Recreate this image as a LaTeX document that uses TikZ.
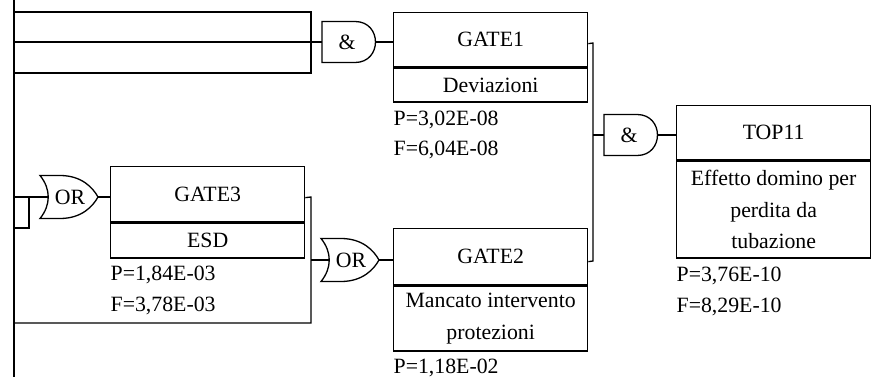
\documentclass[tikz,border=0pt]{standalone}
\usepackage{fontspec}
\setmainfont{Liberation Serif}
\tikzset{
  every path/.style={line width=1.3pt},
  lbl/.style={font=\fontsize{21.8}{31.5}\selectfont, inner sep=0pt},
  hdr/.style={lbl, draw, line width=1.3pt, minimum width=194pt, anchor=north west, align=center},
  andgate/.pic={
    \draw (0,-20.5) -- (33,-20.5) .. controls (60.3,-20.5) and (60.3,20.5) .. (33,20.5) -- (0,20.5) -- cycle;
    \coordinate (-in) at (0,0);
    \coordinate (-out) at (54,0);
    \node[lbl] (-t) at (25,0) {\&};
  },
  orgate/.pic={
    \draw (0,-21.5) -- (20,-21.5) .. controls (42,-21.5) and (53,-9) .. (58,0)
          .. controls (53,9) and (42,21.5) .. (20,21.5) -- (0,21.5)
          .. controls (11,8) and (11,-8) .. (0,-21.5) -- cycle;
    \coordinate (-in) at (8.25,0);
    \coordinate (-out) at (58,0);
    \node[lbl] (-t) at (30,0) {OR};
  }
}
\begin{document}
\begin{tikzpicture}[x=1pt,y=-1pt]
\useasboundingbox (0,0) rectangle (872,377);

% event boxes
\node[hdr, minimum height=54pt] (g1h) at (393,12) {GATE1};
\node[hdr, minimum height=34pt] (g1d) at (g1h.south west) {Deviazioni};
\node[hdr, minimum height=55pt] (g3h) at (110,166) {GATE3};
\node[hdr, minimum height=35pt] (g3d) at (g3h.south west) {ESD};
\node[hdr, minimum height=56pt] (g2h) at (393,228) {GATE2};
\node[hdr, minimum height=65pt] (g2d) at (g2h.south west) {Mancato intervento\\protezioni};
\node[hdr, minimum height=54pt] (toph) at (676,105) {TOP11};
\node[hdr, minimum height=97pt] (topd) at (toph.south west) {Effetto domino per\\perdita da\\tubazione};

% probability labels
\node[lbl, anchor=base west] (p1) at (393,125.5) {P=3,02E-08};
\node[lbl, anchor=base west] (f1) at (393,155.5) {F=6,04E-08};
\node[lbl, anchor=base west] (p3) at (110,280.5) {P=1,84E-03};
\node[lbl, anchor=base west] (f3) at (110,311.5) {F=3,78E-03};
\node[lbl, anchor=base west] (p2) at (393,373.5) {P=1,18E-02};
\node[lbl, anchor=base west] (pt) at (676,281.5) {P=3,76E-10};
\node[lbl, anchor=base west] (ft) at (676,312.5) {F=8,29E-10};

% gates
\pic (and1) at (322,42) {andgate};
\pic (and2) at (604,135) {andgate};
\pic (or3) at (40,197) {orgate};
\pic (or2) at (321,260) {orgate};

% bus coordinates
\coordinate (ltop) at (14,0);
\coordinate (lbot) at (14,377);
\coordinate (t1) at (311,12);
\coordinate (t2) at (311,73);
\coordinate (j1) at (593,43);
\coordinate (j2) at (593,261);
\coordinate (k1) at (311,197);
\coordinate (k2) at (311,323);
\coordinate (m1) at (29,197);
\coordinate (m2) at (29,228);

% connectors
\draw (ltop) -- (lbot);
\draw (t1 -| ltop) -- (t1) -- (t2) -- (t2 -| ltop);
\draw (and1-in) -- (and1-in -| ltop);
\draw (and1-out) -- (and1-out -| g1h.west);
\draw ([yshift=-4pt]g1h.east) -- (j1) -- (j2) -- ([yshift=-5pt]g2h.east);
\draw (and2-in) -- (and2-in -| j1);
\draw (and2-out) -- (and2-out -| toph.west);
\draw (or3-in) -- (or3-in -| ltop);
\draw (m1) -- (m2) -- (m2 -| ltop);
\draw (or3-out) -- (or3-out -| g3h.west);
\draw ([yshift=-3.5pt]g3h.east) -- (k1) -- (k2) -- (k2 -| ltop);
\draw (or2-in) -- (or2-in -| k1);
\draw (or2-out) -- (or2-out -| g2h.west);
\end{tikzpicture}
\end{document}
